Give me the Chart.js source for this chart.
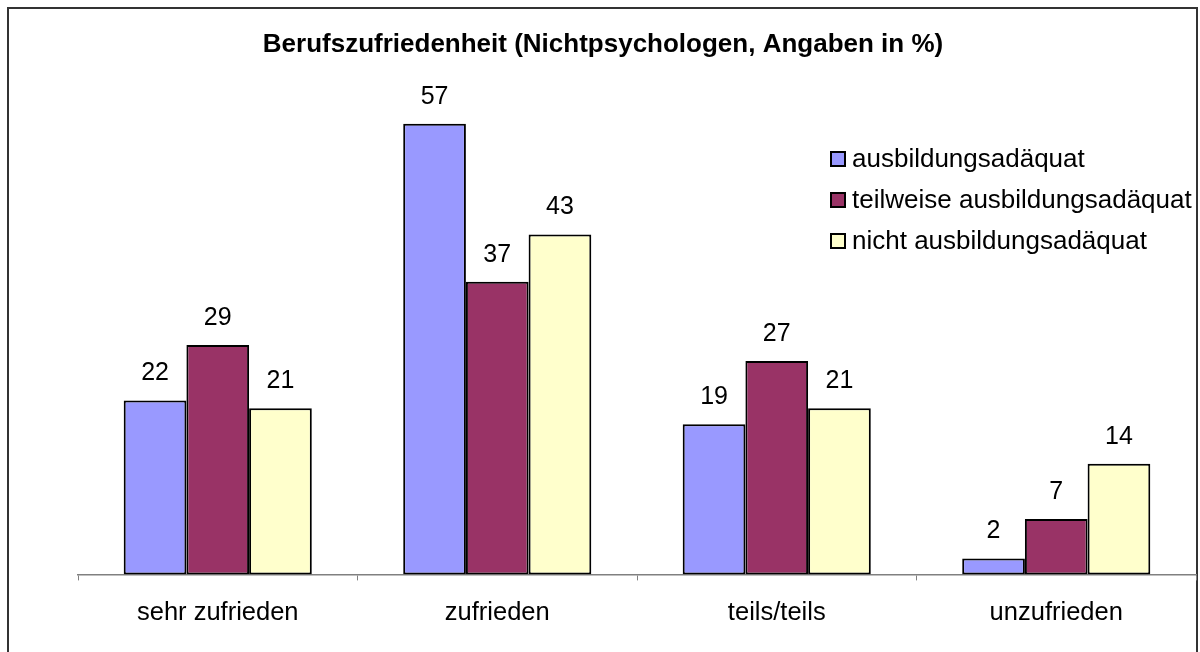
<!DOCTYPE html>
<html>
<head>
<meta charset="utf-8">
<script src="https://cdn.jsdelivr.net/npm/chart.js@4"></script>
<style>
  body { margin: 0; background: #fff; }
  #wrap { width: 1200px; height: 652px; }
</style>
</head>
<body>
<div id="wrap"><canvas id="barChart" width="1200" height="652"></canvas></div>
<script>
const categories = ['sehr zufrieden', 'zufrieden', 'teils/teils', 'unzufrieden'];
const seriesNames = ['ausbildungsadäquat', 'teilweise ausbildungsadäquat', 'nicht ausbildungsadäquat'];
const adaequat = [22, 57, 19, 2];
const teilweise = [29, 37, 27, 7];
const nicht = [21, 43, 21, 14];
const colors = ['#9999FF', '#993366', '#FFFFCC'];
const chartTitle = 'Berufszufriedenheit (Nichtpsychologen, Angaben in %)';

const FONT = '"Liberation Sans", Arial, sans-serif';

// frame, title, legend and value labels
const decorations = {
    id: 'decorations',
    beforeDraw(chart) {
        const ctx = chart.ctx;
        ctx.save();
        ctx.strokeStyle = '#333';
        ctx.lineWidth = 2;
        ctx.strokeRect(8, 8, 1189, 700);
        ctx.restore();
    },
    afterDatasetsDraw(chart) {
        const ctx = chart.ctx;
        ctx.save();
        ctx.fillStyle = '#000';
        ctx.font = '25px ' + FONT;
        ctx.textAlign = 'center';
        ctx.textBaseline = 'middle';
        chart.data.datasets.forEach((ds, i) => {
            chart.getDatasetMeta(i).data.forEach((bar, j) => {
                ctx.fillText(ds.data[j], bar.x, bar.y - 27);
            });
        });

        // title
        ctx.font = 'bold 26px ' + FONT;
        ctx.fillText(chartTitle, 603, 45);

        // legend
        ctx.font = '26px ' + FONT;
        ctx.textAlign = 'left';
        const rows = [159, 200, 241];
        chart.data.datasets.forEach((ds, i) => {
            ctx.fillStyle = ds.backgroundColor;
            ctx.fillRect(831, rows[i] - 7, 14, 14);
            ctx.strokeStyle = '#000';
            ctx.lineWidth = 2;
            ctx.strokeRect(831, rows[i] - 7, 14, 14);
            ctx.fillStyle = '#000';
            ctx.fillText(ds.label, 852, rows[i] + 1);
        });
        ctx.restore();
    }
};

const ctx = document.getElementById('barChart').getContext('2d');
const barChart = new Chart(ctx, {
    type: 'bar',
    data: {
        labels: categories,
        datasets: [
            { label: seriesNames[0], data: adaequat, backgroundColor: colors[0] },
            { label: seriesNames[1], data: teilweise, backgroundColor: colors[1] },
            { label: seriesNames[2], data: nicht, backgroundColor: colors[2] }
        ].map(ds => Object.assign(ds, {
            borderColor: '#000',
            borderWidth: 2,
            borderSkipped: false,
            categoryPercentage: 0.673,
            barPercentage: 1
        }))
    },
    options: {
        responsive: false,
        animation: false,
        layout: {
            padding: { left: 78, right: 4, top: 100, bottom: 7 }
        },
        plugins: {
            legend: { display: false },
            title: { display: false },
            tooltip: { enabled: false }
        },
        scales: {
            x: {
                grid: {
                    drawOnChartArea: false,
                    drawTicks: true,
                    tickLength: 6,
                    color: '#808080'
                },
                border: { color: '#808080', width: 1.5 },
                ticks: {
                    color: '#000',
                    padding: 17,
                    font: { family: FONT, size: 25.5 }
                }
            },
            y: {
                display: false,
                min: 0,
                max: 60
            }
        }
    },
    plugins: [decorations]
});
</script>
</body>
</html>
